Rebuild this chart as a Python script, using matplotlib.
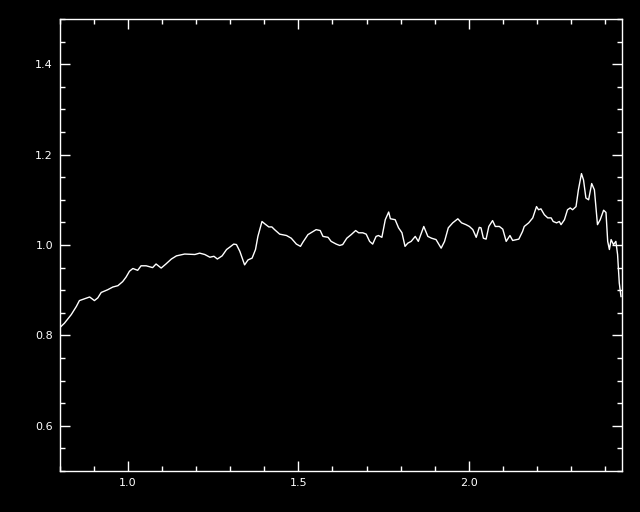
import numpy as np
import matplotlib.pyplot as plt
from matplotlib.ticker import MultipleLocator, FormatStrFormatter

# spectrum
wave = [0.802, 0.813, 0.833, 0.848, 0.857, 0.872, 0.887, 0.901, 0.911, 0.921,
        0.940, 0.955, 0.970, 0.984, 0.994, 1.004, 1.014, 1.028, 1.038, 1.053,
        1.072, 1.082, 1.097, 1.111, 1.127, 1.142, 1.166, 1.196, 1.210, 1.225,
        1.240, 1.252, 1.262, 1.276, 1.289, 1.298, 1.310, 1.318, 1.328, 1.335,
        1.342, 1.352, 1.364, 1.374, 1.381, 1.393, 1.401, 1.413, 1.422, 1.430,
        1.445, 1.465, 1.479, 1.494, 1.506, 1.513, 1.528, 1.543, 1.552, 1.564,
        1.572, 1.587, 1.596, 1.611, 1.621, 1.630, 1.642, 1.655, 1.668, 1.677,
        1.689, 1.699, 1.709, 1.718, 1.728, 1.735, 1.745, 1.755, 1.765, 1.770,
        1.784, 1.794, 1.804, 1.813, 1.821, 1.831, 1.843, 1.852, 1.868, 1.880,
        1.891, 1.904, 1.919, 1.929, 1.940, 1.953, 1.968, 1.979, 1.992, 2.002,
        2.012, 2.022, 2.031, 2.036, 2.043, 2.051, 2.059, 2.070, 2.078, 2.090,
        2.100, 2.110, 2.121, 2.129, 2.147, 2.158, 2.163, 2.176, 2.188, 2.199,
        2.205, 2.212, 2.222, 2.232, 2.242, 2.248, 2.258, 2.266, 2.271, 2.281,
        2.290, 2.298, 2.305, 2.315, 2.322, 2.331, 2.337, 2.344, 2.352, 2.361,
        2.369, 2.378, 2.386, 2.396, 2.403, 2.408, 2.413, 2.418, 2.425, 2.432,
        2.437, 2.442, 2.447]
flux = [0.819, 0.827, 0.846, 0.864, 0.877, 0.881, 0.885, 0.877, 0.883, 0.895,
        0.901, 0.907, 0.910, 0.919, 0.929, 0.942, 0.948, 0.944, 0.954, 0.954,
        0.950, 0.958, 0.949, 0.958, 0.969, 0.976, 0.980, 0.979, 0.982, 0.979,
        0.973, 0.975, 0.969, 0.976, 0.990, 0.995, 1.002, 1.001, 0.986, 0.971,
        0.956, 0.967, 0.971, 0.990, 1.019, 1.052, 1.047, 1.040, 1.040, 1.034,
        1.024, 1.021, 1.015, 1.002, 0.997, 1.006, 1.023, 1.030, 1.034, 1.032,
        1.019, 1.017, 1.008, 1.002, 0.999, 1.001, 1.015, 1.023, 1.032, 1.027,
        1.027, 1.024, 1.008, 1.002, 1.019, 1.021, 1.017, 1.056, 1.073, 1.058,
        1.056, 1.038, 1.027, 0.997, 1.004, 1.008, 1.019, 1.008, 1.041, 1.019,
        1.015, 1.012, 0.993, 1.008, 1.038, 1.049, 1.058, 1.049, 1.045, 1.041,
        1.034, 1.017, 1.039, 1.038, 1.015, 1.013, 1.041, 1.054, 1.041, 1.041,
        1.035, 1.008, 1.021, 1.010, 1.013, 1.030, 1.041, 1.049, 1.060, 1.085,
        1.078, 1.080, 1.067, 1.060, 1.060, 1.052, 1.049, 1.052, 1.045, 1.056,
        1.078, 1.082, 1.078, 1.085, 1.122, 1.158, 1.144, 1.104, 1.100, 1.136,
        1.122, 1.045, 1.056, 1.077, 1.072, 1.008, 0.990, 1.012, 1.001, 1.008,
        0.979, 0.916, 0.886]

fig = plt.figure(figsize=(6.4, 5.12), dpi=100, facecolor='black')
ax = fig.add_axes([60/640, 41/512, 562/640, 452/512], facecolor='black')

ax.plot(wave, flux, color='white', lw=1)
ax.set_xlim(0.8, 2.45)
ax.set_ylim(0.5, 1.5)

ax.xaxis.set_major_locator(MultipleLocator(0.5))
ax.xaxis.set_minor_locator(MultipleLocator(0.1))
ax.yaxis.set_major_locator(MultipleLocator(0.2))
ax.yaxis.set_minor_locator(MultipleLocator(0.05))
ax.xaxis.set_major_formatter(FormatStrFormatter('%.1f'))
ax.yaxis.set_major_formatter(FormatStrFormatter('%.1f'))

for s in ax.spines.values():
    s.set_color('white')
    s.set_linewidth(1)
ax.tick_params(which='both', direction='in', colors='white', top=True, right=True,
               width=1, labelsize=8)
ax.tick_params(which='major', length=7.5, pad=5)
ax.tick_params(which='minor', length=3.8)

fig.savefig('out.png', dpi=100, facecolor='black')
